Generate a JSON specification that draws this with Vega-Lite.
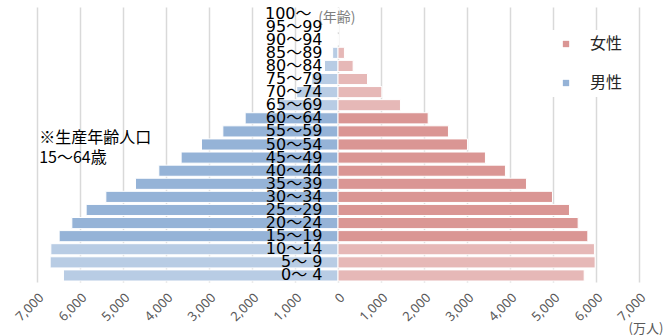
{
  "$schema": "https://vega.github.io/schema/vega-lite/v6.json",
  "width": 602,
  "height": 275,
  "autosize": {"type": "none"},
  "padding": {"left": 37, "top": 7, "right": 24, "bottom": 53},
  "background": "white",
  "config": {"view": {"stroke": null}, "font": "Noto Sans CJK JP"},
  "datasets": {
    "pop": [
      {"age": "100～", "sex": "男性", "group": "男性・その他", "value": 0},
      {"age": "95～99", "sex": "男性", "group": "男性・その他", "value": 0},
      {"age": "90～94", "sex": "男性", "group": "男性・その他", "value": 0},
      {"age": "85～89", "sex": "男性", "group": "男性・その他", "value": -125},
      {"age": "80～84", "sex": "男性", "group": "男性・その他", "value": -315},
      {"age": "75～79", "sex": "男性", "group": "男性・その他", "value": -610},
      {"age": "70～74", "sex": "男性", "group": "男性・その他", "value": -960},
      {"age": "65～69", "sex": "男性", "group": "男性・その他", "value": -1390},
      {"age": "60～64", "sex": "男性", "group": "男性", "value": -2159},
      {"age": "55～59", "sex": "男性", "group": "男性", "value": -2678},
      {"age": "50～54", "sex": "男性", "group": "男性", "value": -3175},
      {"age": "45～49", "sex": "男性", "group": "男性", "value": -3648},
      {"age": "40～44", "sex": "男性", "group": "男性", "value": -4167},
      {"age": "35～39", "sex": "男性", "group": "男性", "value": -4710},
      {"age": "30～34", "sex": "男性", "group": "男性", "value": -5399},
      {"age": "25～29", "sex": "男性", "group": "男性", "value": -5857},
      {"age": "20～24", "sex": "男性", "group": "男性", "value": -6190},
      {"age": "15～19", "sex": "男性", "group": "男性", "value": -6485},
      {"age": "10～14", "sex": "男性", "group": "男性・その他", "value": -6678},
      {"age": "5～ 9", "sex": "男性", "group": "男性・その他", "value": -6694},
      {"age": "0～ 4", "sex": "男性", "group": "男性・その他", "value": -6385},
      {"age": "100～", "sex": "女性", "group": "女性・その他", "value": 0},
      {"age": "95～99", "sex": "女性", "group": "女性・その他", "value": 0},
      {"age": "90～94", "sex": "女性", "group": "女性・その他", "value": 0},
      {"age": "85～89", "sex": "女性", "group": "女性・その他", "value": 150},
      {"age": "80～84", "sex": "女性", "group": "女性・その他", "value": 352},
      {"age": "75～79", "sex": "女性", "group": "女性・その他", "value": 686},
      {"age": "70～74", "sex": "女性", "group": "女性・その他", "value": 1019},
      {"age": "65～69", "sex": "女性", "group": "女性・その他", "value": 1453},
      {"age": "60～64", "sex": "女性", "group": "女性", "value": 2097},
      {"age": "55～59", "sex": "女性", "group": "女性", "value": 2569},
      {"age": "50～54", "sex": "女性", "group": "女性", "value": 3011},
      {"age": "45～49", "sex": "女性", "group": "女性", "value": 3429},
      {"age": "40～44", "sex": "女性", "group": "女性", "value": 3894},
      {"age": "35～39", "sex": "女性", "group": "女性", "value": 4383},
      {"age": "30～34", "sex": "女性", "group": "女性", "value": 4988},
      {"age": "25～29", "sex": "女性", "group": "女性", "value": 5383},
      {"age": "20～24", "sex": "女性", "group": "女性", "value": 5585},
      {"age": "15～19", "sex": "女性", "group": "女性", "value": 5810},
      {"age": "10～14", "sex": "女性", "group": "女性・その他", "value": 5964},
      {"age": "5～ 9", "sex": "女性", "group": "女性・その他", "value": 5980},
      {"age": "0～ 4", "sex": "女性", "group": "女性・その他", "value": 5725}
    ]
  },
  "data": {"name": "pop"},
  "layer": [
    {
      "mark": {"type": "bar", "stroke": "white", "strokeWidth": 1},
      "encoding": {
        "y": {
          "field": "age",
          "type": "ordinal",
          "sort": ["100～", "95～99", "90～94", "85～89", "80～84", "75～79", "70～74", "65～69", "60～64", "55～59", "50～54", "45～49", "40～44", "35～39", "30～34", "25～29", "20～24", "15～19", "10～14", "5～ 9", "0～ 4"],
          "scale": {"paddingInner": 0.15, "paddingOuter": 0.075},
          "axis": {
            "orient": "left",
            "offset": -287,
            "domain": false,
            "ticks": false,
            "grid": false,
            "title": null,
            "labelPadding": {"condition": {"test": "datum.label == '100～'", "value": 13}, "value": 2},
            "labelAlign": "right",
            "labelFont": "DejaVu Sans, Noto Sans CJK JP",
            "labelFontSize": 16,
            "labelColor": "black",
            "labelOverlap": false,
            "labelBaseline": "middle",
            "zindex": 1
          }
        },
        "x": {
          "field": "value",
          "type": "quantitative",
          "scale": {"domain": [-7000, 7000]},
          "axis": {
            "values": [-7000, -6000, -5000, -4000, -3000, -2000, -1000, 0, 1000, 2000, 3000, 4000, 5000, 6000, 7000],
            "labelExpr": "format(abs(datum.value), ',')",
            "grid": true,
            "gridColor": "#d9d9d9",
            "gridWidth": 1.5,
            "domain": false,
            "ticks": false,
            "labelAngle": -45,
            "labelColor": "#595959",
            "labelFont": "Noto Sans",
            "labelFontSize": 13,
            "labelPadding": 9,
            "labelOverlap": false,
            "title": "(万人)",
            "titleX": 591,
            "titleY": 46,
            "titleAlign": "left",
            "titleBaseline": "middle",
            "titleAngle": 0,
            "titleFont": "Noto Sans CJK JP",
            "titleFontSize": 13,
            "titleFontWeight": "normal",
            "titleColor": "#595959"
          }
        },
        "color": {
          "field": "group",
          "type": "nominal",
          "scale": {
            "domain": ["女性", "男性", "女性・その他", "男性・その他"],
            "range": ["#da9694", "#95b3d7", "#e6b8b7", "#b8cce4"]
          },
          "legend": {
            "values": ["女性", "男性"],
            "orient": "none",
            "legendX": 515,
            "legendY": 23,
            "title": null,
            "fillColor": "white",
            "padding": 6,
            "symbolType": "square",
            "symbolSize": 40,
            "symbolStrokeWidth": 0,
            "symbolOpacity": 1,
            "labelFont": "Noto Sans CJK JP",
            "labelFontSize": 16,
            "labelColor": "#262626",
            "labelOffset": 16,
            "rowPadding": 23,
            "labelExpr": "datum.label + '\u3000'"
          }
        }
      }
    },
    {
      "data": {"values": [{}]},
      "mark": {"type": "text", "text": "※生産年齢人口", "align": "left", "baseline": "middle", "dy": 7, "fontSize": 16, "font": "Noto Sans CJK JP", "color": "black"},
      "encoding": {"x": {"datum": -6950, "type": "quantitative"}, "y": {"datum": "55～59", "type": "ordinal"}}
    },
    {
      "data": {"values": [{}]},
      "mark": {"type": "text", "text": "15～64歳", "align": "left", "baseline": "middle", "fontSize": 16, "font": "Noto Sans CJK JP", "color": "black"},
      "encoding": {"x": {"datum": -6950, "type": "quantitative"}, "y": {"datum": "45～49", "type": "ordinal"}}
    },
    {
      "data": {"values": [{}]},
      "mark": {"type": "text", "text": "(年齢)", "align": "left", "baseline": "middle", "dy": 4, "fontSize": 14, "font": "Noto Sans CJK JP", "color": "#7f7f7f"},
      "encoding": {"x": {"datum": -462, "type": "quantitative"}, "y": {"datum": "100～", "type": "ordinal"}}
    }
  ]
}
